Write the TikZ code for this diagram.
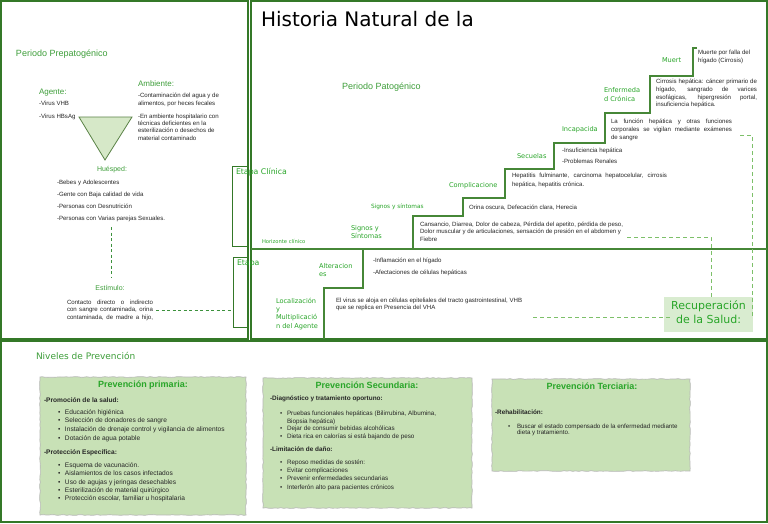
\documentclass[tikz,border=0pt]{standalone}
\usepackage{fontspec}
\setmainfont{Liberation Sans}
\newfontfamily\dv{DejaVu Sans}
\usetikzlibrary{decorations.pathmorphing}
\definecolor{frameg}{RGB}{52,120,40}
\definecolor{tgreen}{RGB}{62,158,58}
\definecolor{tgreen2}{RGB}{40,165,40}
\definecolor{stairg}{RGB}{70,135,55}
\definecolor{dashg}{RGB}{125,192,105}
\definecolor{dashdk}{RGB}{60,145,60}
\definecolor{boxfill}{RGB}{200,225,182}
\definecolor{recfill}{RGB}{217,236,208}
\definecolor{trifill}{RGB}{214,232,200}
\definecolor{trieg}{RGB}{90,130,70}
\definecolor{txtc}{RGB}{38,38,38}
\newcommand\jline[2]{\hbox to #1{#2}}
\newcommand\bul{\makebox[7pt][l]{\textbullet}}
\begin{document}
\begin{tikzpicture}[x=1pt,y=-1pt,
  every node/.style={inner sep=0pt, outer sep=0pt},
  frame/.style={draw=frameg, line width=1.2pt},
  thinframe/.style={draw=frameg, line width=1pt},
  stair/.style={draw=stairg, line width=1.2pt},
  dsh/.style={draw=dashg, line width=1pt, dash pattern=on 4pt off 3pt},
  dshdk/.style={draw=dashdk, line width=0.9pt, dash pattern=on 3pt off 2.5pt},
  sm/.style={font=\fontsize{6.1}{7.6}\selectfont, text=txtc, align=left, anchor=base west},
  gl/.style={font=\fontsize{9}{11}\selectfont, text=tgreen, anchor=base west},
  gl8/.style={font=\fontsize{8}{10}\selectfont, text=tgreen, anchor=base west},
  gl7/.style={font=\fontsize{7}{9}\selectfont, text=tgreen, anchor=base},
  gv/.style={font=\dv\fontsize{6.6}{8.3}\selectfont, text=tgreen2, align=left, anchor=base west},
  pbox/.style={fill=boxfill, draw=black!28, line width=0.7pt, decorate,
    decoration={random steps, segment length=3pt, amplitude=0.4pt}},
  ptitle/.style={font=\bfseries\fontsize{9}{11}\selectfont, text=tgreen2, anchor=base},
  bsub/.style={font=\bfseries\fontsize{6.6}{8}\selectfont, text=txtc, anchor=base west},
  blist/.style={font=\fontsize{6.6}{8.6}\selectfont, text=txtc, align=left, anchor=base west}
]
\useasboundingbox (0,0) rectangle (768,523);
\fill[white] (0,0) rectangle (768,523);

% ---------- frames
\draw[frame] (1,1) rectangle (248,339);
\draw[frame] (251,1) rectangle (767,339);
\draw[frame] (1,341) rectangle (767,522);

% ---------- left panel
\node[gl] (pp) at (16,56) {Periodo Prepatogénico};
\node[gl8] (agente) at (39,94.5) {Agente:};
\node[sm] (vir1) at (39,105.3) {-Virus VHB};
\node[sm] (vir2) at (39,118) {-Virus HBsAg};
\node[gl8] (amb) at (138,86) {Ambiente:};
\node[sm, font=\fontsize{6.1}{8}\selectfont] (amb1) at (138,105) {-Contaminación del agua y de\\alimentos, por heces fecales};
\node[sm, font=\fontsize{6.1}{7.4}\selectfont] (amb2) at (138,140.2) {-En ambiente hospitalario con\\técnicas deficientes en la\\esterilización o desechos de\\material contaminado};
\draw[fill=trifill, draw=trieg, line width=0.8pt] (79,117) -- (132,117) -- (105,160) -- cycle;
\node[gl7] (hue) at (112,171.5) {Huésped:};
\node[sm, font=\fontsize{6.1}{12}\selectfont] (hue1) at (57,220) {-Bebes y Adolescentes\\-Gente con Baja calidad de vida\\-Personas con Desnutrición\\-Personas con Varias parejas Sexuales.};
\coordinate (h1) at (111,227);
\coordinate (h2) at (111,278);
\draw[dshdk] (h1) -- (h2);
\node[gl7] (est) at (110,290.5) {Estímulo:};
\node[sm] (cont) at (67,319.2) {\jline{86pt}{Contacto directo o indirecto}\\\jline{86pt}{con sangre contaminada, orina}\\\jline{86pt}{contaminada, de madre a hijo,}};
\coordinate (c1) at (156,310);
\coordinate (c2) at (231,310);
\draw[dshdk] (c1) -- (c2);

% ---------- etapa boxes
\draw[thinframe] (232,166) rectangle (248,246);
\draw[thinframe] (233,257) rectangle (247,327);
\node[font=\dv\fontsize{7.8}{9}\selectfont, text=tgreen2, anchor=base west] (etc) at (236,174.7) {Etapa Clínica};
\node[font=\dv\fontsize{7.8}{9}\selectfont, text=tgreen2, anchor=base west] (ets) at (237,265.7) {Etapa};

% ---------- staircase
\draw[stair, line width=1.5pt] (251,249) -- (767,249);
\draw[stair] (324,339) -- (324,288) -- (363,288) -- (363,249);
\draw[stair] (413,249) -- (413,216) -- (463,216) -- (463,198) -- (505,198) -- (505,169) -- (554,169) -- (554,143) -- (605,143) -- (605,113) -- (650,113) -- (650,76) -- (693,76) -- (693,48) -- (697,48);

% ---------- main panel texts
\node[font=\dv\fontsize{20}{24}\selectfont, text=black, anchor=base west] (title) at (261,26) {Historia Natural de la};
\node[gl] (pat) at (342,89) {Periodo Patogénico};
\node[gv, font=\dv\fontsize{5.2}{6}\selectfont] (hor) at (262,243) {Horizonte clínico};
\node[gv] (loc) at (276,328.1) {Localización\\y\\Multiplicació\\n del Agente};
\node[gv] (alt) at (319,276.5) {Alteracion\\es};
\node[sm, font=\fontsize{6.1}{7.5}\selectfont] (vir) at (336,309.5) {El virus se aloja en células epiteliales del tracto gastrointestinal, VHB\\que se replica en Presencia del VHA};
\node[sm] (inf1) at (373,262) {-Inflamación en el hígado};
\node[sm] (inf2) at (373,274.7) {-Afectaciones de células hepáticas};
\node[gv] (sig) at (351,238.3) {Signos y\\Síntomas};
\node[sm, font=\fontsize{6.1}{7.5}\selectfont] (can) at (420,241) {Cansancio, Diarrea, Dolor de cabeza, Pérdida del apetito, pérdida de peso,\\Dolor muscular y de articulaciones, sensación de presión en el abdomen y\\Fiebre};
\node[gv, font=\dv\fontsize{5.8}{7}\selectfont] (sig2) at (371,208) {Signos y síntomas};
\node[sm] (ori) at (469,209) {Orina oscura, Defecación clara, Herecia};
\node[gv] (com) at (449,187.2) {Complicacione};
\node[sm, font=\fontsize{6.1}{8.3}\selectfont] (hep) at (512,186) {\jline{155pt}{Hepatitis fulminante, carcinoma hepatocelular, cirrosis}\\hepática, hepatitis crónica.};
\node[gv] (sec) at (517,158.2) {Secuelas};
\node[sm] (ins1) at (562,152) {-Insuficiencia hepática};
\node[sm] (ins2) at (562,163.7) {-Problemas Renales};
\node[gv] (inc) at (562,131.2) {Incapacida};
\node[sm, font=\fontsize{6.1}{8}\selectfont] (fun) at (611,139.7) {\jline{121pt}{La función hepática y otras funciones}\\\jline{121pt}{corporales se vigilan mediante exámenes}\\de sangre};
\node[gv, font=\dv\fontsize{6.6}{9}\selectfont] (enf) at (604,101.9) {Enfermeda\\d Crónica};
\node[sm, font=\fontsize{6.1}{7.7}\selectfont] (cir) at (656,106.8) {\jline{101pt}{Cirrosis hepática: cáncer primario de}\\\jline{101pt}{hígado, sangrado de varices}\\\jline{101pt}{esofágicas, hipergresión portal,}\\insuficiencia hepática.};
\node[gv] (mue) at (662,62.5) {Muert};
\node[sm, font=\fontsize{6.1}{8}\selectfont] (mue2) at (698,62) {Muerte por falla del\\hígado (Cirrosis)};

% ---------- recuperacion
\node[fill=recfill, minimum width=89pt, minimum height=35pt, anchor=north west] (recbox) at (664,297) {};
\node[font=\dv\fontsize{11}{13.6}\selectfont, text=tgreen2, align=center, anchor=base] (rec) at (708.5,323.3) {Recuperación\\de la Salud:};
\coordinate (r1) at (627,237);
\coordinate (r2) at (711,237);
\coordinate (r3) at (711,297);
\draw[dsh] (r1) -- (r2) -- (r3);
\coordinate (s1) at (740,135);
\coordinate (s2) at (752,135);
\coordinate (s3) at (752,316);
\draw[dsh] (s1) -- (s2) -- (s3);
\coordinate (t1) at (533,317);
\coordinate (t2) at (671,317);
\draw[dsh] (t1) -- (t2);

% ---------- bottom panel
\node[font=\dv\fontsize{9}{11}\selectfont, text=tgreen, anchor=base west] (niv) at (36,359.3) {Niveles de Prevención};

\draw[pbox] (40,377) rectangle (246,515);
\node[ptitle] (b1t) at (143,387.3) {Prevención primaria:};
\node[bsub] (b1h1) at (44,402.3) {-Promoción de la salud:};
\node[blist] (b1l1) at (58,440.1) {\bul Educación higiénica\\\bul Selección de donadores de sangre\\\bul Instalación de drenaje control y vigilancia de alimentos\\\bul Dotación de agua potable};
\node[bsub] (b1h2) at (44,454) {-Protección Específica:};
\node[blist, font=\fontsize{6.6}{8.4}\selectfont] (b1l2) at (58,500.9) {\bul Esquema de vacunación.\\\bul Aislamientos de los casos infectados\\\bul Uso de agujas y jeringas desechables\\\bul Esterilización de material quirúrgico\\\bul Protección escolar, familiar u hospitalaria};

\draw[pbox] (263,378) rectangle (472,508);
\node[ptitle] (b2t) at (367,388.3) {Prevención Secundaria:};
\node[bsub, font=\bfseries\fontsize{6.4}{8}\selectfont] (b2h1) at (270,400.5) {-Diagnóstico y tratamiento oportuno:};
\node[blist, font=\fontsize{6.3}{7.8}\selectfont] (b2l1) at (280,438.6) {\bul Pruebas funcionales hepáticas (Bilirrubina, Albumina,\\\hspace*{7pt}Biopsia hepática)\\\bul Dejar de consumir bebidas alcohólicas\\\bul Dieta rica en calorías si está bajando de peso};
\node[bsub, font=\bfseries\fontsize{6.4}{8}\selectfont] (b2h2) at (270,451.5) {-Limitación de daño:};
\node[blist, font=\fontsize{6.3}{8.2}\selectfont] (b2l2) at (280,489.1) {\bul Reposo medidas de sostén:\\\bul Evitar complicaciones\\\bul Prevenir enfermedades secundarias\\\bul Interferón alto para pacientes crónicos};

\draw[pbox] (492,379) rectangle (690,471);
\node[ptitle] (b3t) at (592,389.3) {Prevención Terciaria:};
\node[bsub, font=\bfseries\fontsize{6.4}{8}\selectfont] (b3h1) at (495,414.5) {-Rehabilitación:};
\node[blist, font=\fontsize{6.2}{6.8}\selectfont] (b3l1) at (508,434.8) {\makebox[9pt][l]{\textbullet}Buscar el estado compensado de la enfermedad mediante\\\hspace*{9pt}dieta y tratamiento.};
\end{tikzpicture}
\end{document}
